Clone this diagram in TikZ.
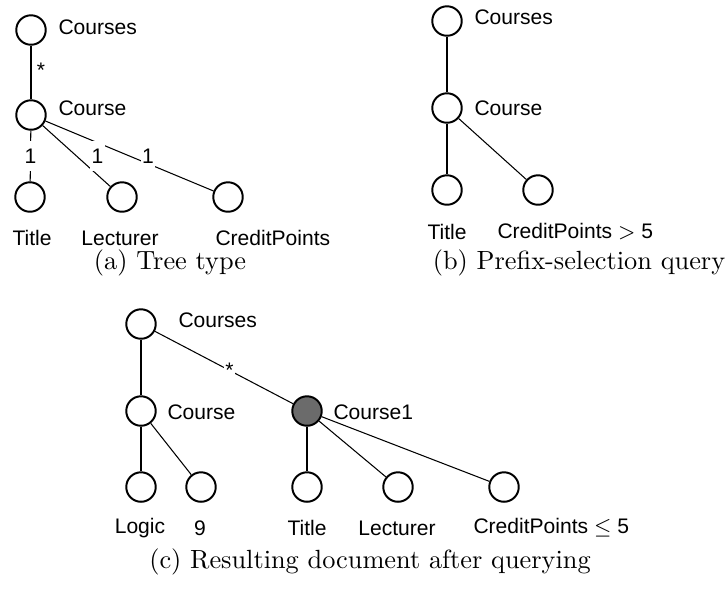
\documentclass[tikz,border=0pt]{standalone}
\usepackage{amsmath}
\usepackage{amssymb}
\usepackage{fontspec}
\newfontfamily\lblfont{Liberation Sans}
\usepackage{tikz}
\usetikzlibrary{positioning, calc}
\definecolor{sel-grey}{gray}{0.42}

\begin{document}
\begin{tikzpicture}[x=0.38pt, y=-0.38pt,
	vert/.style={circle, draw, line width=0.75pt, minimum size=11.2pt, inner sep=0pt},
	tag/.style={font=\lblfont\fontsize{8}{9.6}\selectfont, inner sep=0pt},
	mult/.style={font=\lblfont\fontsize{8}{9.6}\selectfont, fill=white, inner xsep=0.5pt, inner ysep=3pt},
	edge/.style={line width=0.4pt}]
	\useasboundingbox (0,0) rectangle (726,590);

	% (a) tree type
	\node[vert] at (31,30) (coursesA) {};
	\node[vert] at (31,115) (courseA) {};
	\node[vert] at (30,197) (titleA) {};
	\node[vert] at (122,197) (lectA) {};
	\node[vert] at (228,197) (creditA) {};
	\node[tag, anchor=west] at (58,27) (coursesAt) {Courses};
	\node[tag, anchor=west] at (58,108) (courseAt) {Course};
	\node[tag] at (32,238) (titleAt) {Title};
	\node[tag] at (120,238) (lectAt) {Lecturer};
	\node[tag, anchor=west] at (215,238) (creditAt) {CreditPoints};

	\draw[edge] (coursesA) -- node[tag, pos=.45, right=2pt] {*} (courseA);
	\draw[edge] (courseA) -- node[mult, pos=.61, yshift=3pt] {1} (creditA);
	\draw[edge] (courseA) -- node[mult, pos=.5, xshift=8pt] {1} (lectA);
	\draw[edge] (courseA) -- node[mult] {1} (titleA);

	\node at (170,263) (capA) {(a) Tree type};

	% (b) prefix-selection query
	\node[vert] at (447,21) (coursesB) {};
	\node[vert] at (447,108) (courseB) {};
	\node[vert] at (447,190) (titleB) {};
	\node[vert] at (538,190) (creditB) {};
	\node[tag, anchor=west] at (474,17) (coursesBt) {Courses};
	\node[tag, anchor=west] at (474,108) (courseBt) {Course};
	\node[tag] at (447,232) (titleBt) {Title};
	\node[tag, anchor=west] at (497,232) (creditBt) {CreditPoints $>$ 5};

	\draw[edge] (coursesB) -- (courseB);
	\draw[edge] (courseB) -- (titleB);
	\draw[edge] (courseB) -- (creditB);

	\node at (579,263) (capB) {(b) Prefix-selection query};

	% (c) resulting document
	\node[vert] at (141,324) (coursesC) {};
	\node[vert] at (141,411) (courseC) {};
	\node[vert, fill=sel-grey] at (307,411) (courseoneC) {};
	\node[vert] at (141,487) (logicC) {};
	\node[vert] at (201,487) (nineC) {};
	\node[vert] at (307,487) (titleC) {};
	\node[vert] at (398,487) (lectC) {};
	\node[vert] at (504,487) (creditC) {};
	\node[tag, anchor=west] at (178,320) (coursesCt) {Courses};
	\node[tag, anchor=west] at (167,412) (courseCt) {Course};
	\node[tag, anchor=west] at (333,412) (courseoneCt) {Course1};
	\node[tag] at (140,528) (logicCt) {Logic};
	\node[tag] at (200,528) (nineCt) {9};
	\node[tag] at (307,528) (titleCt) {Title};
	\node[tag] at (397,528) (lectCt) {Lecturer};
	\node[tag, anchor=west] at (473,528) (creditCt) {CreditPoints $\leq$ 5};

	\draw[edge] (coursesC) -- (courseC);
	\draw[edge] (coursesC) -- node[mult, pos=.54, inner ysep=1pt] {*} (courseoneC);
	\draw[edge] (courseC) -- (logicC);
	\draw[edge] (courseC) -- (nineC);
	\draw[edge] (courseoneC) -- (titleC);
	\draw[edge] (courseoneC) -- (lectC);
	\draw[edge] (courseoneC) -- (creditC);

	\node at (370,562) (capC) {(c) Resulting document after querying};
\end{tikzpicture}
\end{document}
